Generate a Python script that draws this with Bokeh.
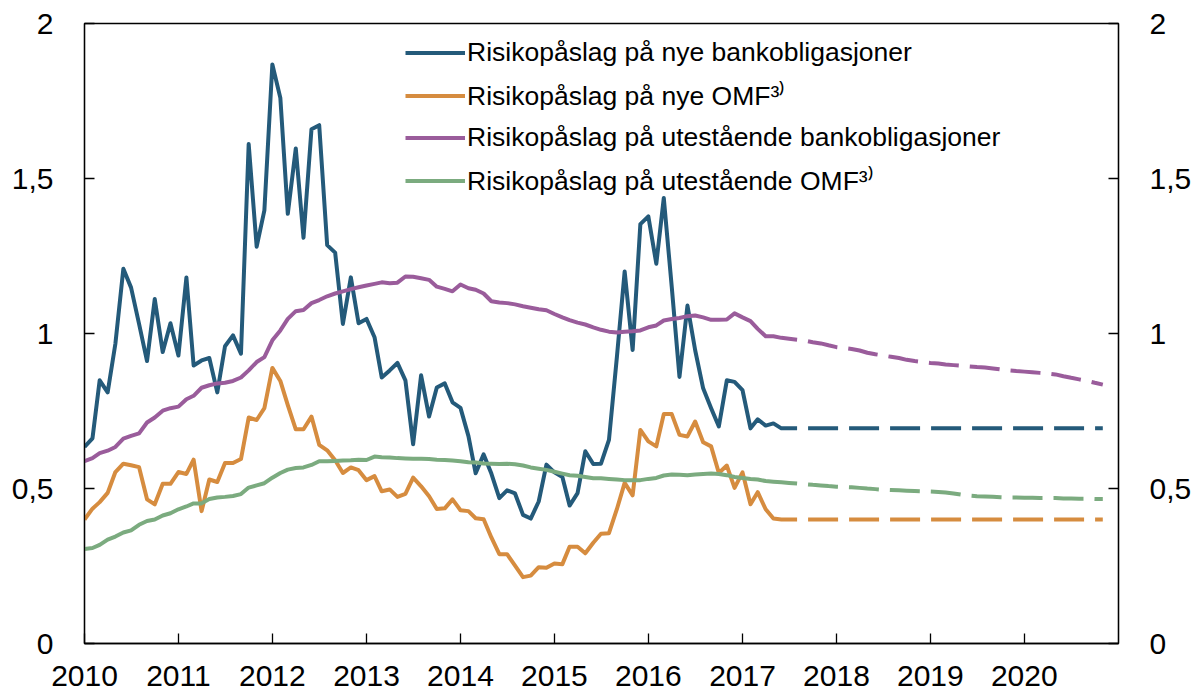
import pandas as pd
from datetime import datetime
from bokeh.plotting import figure
from bokeh.models import (Range1d, LinearAxis, FixedTicker, DatetimeTickFormatter,
                          CustomJSTickFormatter, Legend, LegendItem)
from bokeh.embed import file_html
from bokeh.resources import INLINE

# ---------------- data (monthly, per cent points) ----------------
ACTUAL_START = "2010-01-01"          # actual observations start Jan 2010
FORECAST_START = "2017-08-01"        # dashed projections start Aug 2017
FORECAST_END = "2020-11-01"

labels = [
    "Risikopåslag på nye bankobligasjoner",
    "Risikopåslag på nye OMF³⁾",
    "Risikopåslag på utestående bankobligasjoner",
    "Risikopåslag på utestående OMF³⁾",
]

bank_new = [
    0.634, 0.662, 0.849, 0.810, 0.967, 1.209, 1.148, 1.031, 0.911, 1.111, 0.940, 1.033,
    0.929, 1.181, 0.897, 0.913, 0.921, 0.810, 0.959, 0.994, 0.935, 1.611, 1.280, 1.397,
    1.868, 1.760, 1.386, 1.597, 1.309, 1.659, 1.672, 1.285, 1.261, 1.031, 1.181, 1.033,
    1.047, 0.988, 0.858, 0.881, 0.905, 0.849, 0.643, 0.865, 0.732, 0.826, 0.839, 0.778,
    0.760, 0.669, 0.549, 0.610, 0.548, 0.469, 0.494, 0.484, 0.415, 0.403, 0.458, 0.577,
    0.552, 0.537, 0.445, 0.485, 0.620, 0.579, 0.580, 0.657, 0.926, 1.200, 0.947, 1.353,
    1.378, 1.225, 1.437, 1.150, 0.860, 1.090, 0.946, 0.823, 0.759, 0.700, 0.849, 0.844,
    0.817, 0.694, 0.723, 0.703, 0.710, 0.694, 0.694, 0.694,
]
omf_new = [
    0.400, 0.435, 0.456, 0.486, 0.553, 0.580, 0.575, 0.569, 0.465, 0.449, 0.515, 0.515,
    0.553, 0.547, 0.593, 0.427, 0.529, 0.521, 0.582, 0.582, 0.595, 0.729, 0.721, 0.759,
    0.889, 0.847, 0.769, 0.691, 0.691, 0.732, 0.641, 0.623, 0.591, 0.550, 0.568, 0.559,
    0.527, 0.540, 0.491, 0.497, 0.473, 0.483, 0.535, 0.507, 0.475, 0.434, 0.436, 0.465,
    0.430, 0.427, 0.404, 0.401, 0.342, 0.288, 0.288, 0.251, 0.214, 0.219, 0.246, 0.244,
    0.258, 0.256, 0.312, 0.312, 0.291, 0.325, 0.354, 0.356, 0.434, 0.518, 0.478, 0.689,
    0.652, 0.636, 0.740, 0.740, 0.673, 0.668, 0.716, 0.649, 0.636, 0.550, 0.574, 0.502,
    0.552, 0.449, 0.488, 0.433, 0.403, 0.400, 0.400, 0.400,
]
bank_out = [
    0.588, 0.598, 0.614, 0.622, 0.634, 0.661, 0.670, 0.678, 0.713, 0.729, 0.751, 0.759,
    0.764, 0.788, 0.799, 0.825, 0.833, 0.839, 0.841, 0.847, 0.858, 0.881, 0.908, 0.924,
    0.978, 1.010, 1.047, 1.072, 1.076, 1.098, 1.108, 1.120, 1.129, 1.136, 1.143, 1.149,
    1.155, 1.160, 1.165, 1.162, 1.164, 1.184, 1.183, 1.178, 1.173, 1.151, 1.144, 1.136,
    1.158, 1.146, 1.141, 1.129, 1.104, 1.100, 1.098, 1.094, 1.088, 1.083, 1.078, 1.075,
    1.063, 1.052, 1.043, 1.035, 1.029, 1.020, 1.012, 1.006, 1.003, 1.006, 1.007, 1.010,
    1.020, 1.026, 1.042, 1.047, 1.050, 1.056, 1.058, 1.052, 1.044, 1.044, 1.045, 1.065,
    1.052, 1.040, 1.015, 0.991, 0.991, 0.986, 0.983, 0.980,
]
omf_out = [
    0.305, 0.308, 0.318, 0.335, 0.345, 0.358, 0.365, 0.383, 0.395, 0.400, 0.413, 0.420,
    0.433, 0.442, 0.452, 0.452, 0.466, 0.471, 0.473, 0.476, 0.482, 0.503, 0.510, 0.517,
    0.535, 0.550, 0.561, 0.566, 0.568, 0.576, 0.588, 0.588, 0.589, 0.590, 0.591, 0.593,
    0.592, 0.603, 0.601, 0.600, 0.598, 0.597, 0.596, 0.596, 0.595, 0.593, 0.592, 0.590,
    0.588, 0.585, 0.584, 0.581, 0.580, 0.579, 0.580, 0.578, 0.574, 0.568, 0.564, 0.560,
    0.554, 0.548, 0.543, 0.541, 0.537, 0.533, 0.533, 0.531, 0.529, 0.527, 0.527, 0.527,
    0.531, 0.534, 0.542, 0.545, 0.544, 0.543, 0.545, 0.547, 0.548, 0.547, 0.543, 0.537,
    0.534, 0.531, 0.529, 0.524, 0.522, 0.520, 0.518, 0.516,
]

# projections (dashed)
bank_new_fc = [0.694, 0.694]           # flat: start and end of projection
omf_new_fc = [0.400, 0.400]            # flat: start and end of projection
bank_out_fc = [
    0.980, 0.977, 0.972, 0.968, 0.962, 0.956, 0.953, 0.950, 0.945, 0.938, 0.933, 0.929,
    0.925, 0.921, 0.915, 0.911, 0.908, 0.905, 0.903, 0.900, 0.898, 0.896, 0.894, 0.892,
    0.890, 0.887, 0.884, 0.881, 0.879, 0.877, 0.875, 0.873, 0.871, 0.868, 0.862, 0.857,
    0.852, 0.847, 0.841, 0.835,
]
omf_out_fc = [
    0.516, 0.514, 0.512, 0.510, 0.508, 0.506, 0.505, 0.504, 0.502, 0.500, 0.498, 0.496,
    0.495, 0.494, 0.493, 0.492, 0.491, 0.490, 0.489, 0.487, 0.484, 0.480, 0.477, 0.475,
    0.474, 0.473, 0.472, 0.471, 0.471, 0.470, 0.470, 0.469, 0.469, 0.469, 0.468, 0.468,
    0.467, 0.467, 0.466, 0.466,
]

year_ticks = list(range(2010, 2021))
y_ticks = [0, 0.5, 1, 1.5, 2]

colors = ["#245a7a", "#d68c3f", "#9a5c9b", "#7bab7f"]

# ---------------- figure ----------------
dates = pd.date_range(ACTUAL_START, periods=len(bank_new), freq="MS")
fc_dates = pd.date_range(FORECAST_START, periods=len(bank_out_fc), freq="MS")
fc_flat_dates = pd.to_datetime([FORECAST_START, FORECAST_END])

p = figure(width=1197, height=699, x_axis_type="datetime",
           x_range=Range1d(datetime(2010, 1, 1), datetime(2021, 1, 1)),
           y_range=Range1d(0, 2),
           output_backend="svg", toolbar_location=None,
           min_border_left=84, min_border_right=79, min_border_top=23, min_border_bottom=56)
p.xgrid.visible = False
p.ygrid.visible = False
p.outline_line_color = "black"
p.outline_line_width = 1.3
p.background_fill_color = "white"
p.border_fill_color = "white"

LW = 4
actual = [bank_new, omf_new, bank_out, omf_out]
fcs = [(fc_flat_dates, bank_new_fc), (fc_flat_dates, omf_new_fc),
       (fc_dates, bank_out_fc), (fc_dates, omf_out_fc)]
renderers = []
for vals, (fx, fy), c in zip(actual, fcs, colors):
    r = p.line(dates, vals, line_color=c, line_width=LW, line_join="round")
    renderers.append(r)
    p.line(fx, fy, line_color=c, line_width=LW, line_dash="30 11", line_dash_offset=30)

# axes
tick_font = "Liberation Sans"
def style_axis(ax, standoff):
    ax.axis_line_color = "black"
    ax.axis_line_width = 1.3
    ax.major_tick_line_color = "black"
    ax.major_tick_line_width = 1.3
    ax.major_tick_in = 10
    ax.major_tick_out = 0
    ax.minor_tick_line_color = None
    ax.major_label_text_font = tick_font
    ax.major_label_text_font_size = "30px"
    ax.major_label_text_color = "black"
    ax.major_label_standoff = standoff

xa = p.xaxis[0]
xa.ticker = FixedTicker(ticks=[pd.Timestamp(f"{y}-01-01").timestamp() * 1000 for y in year_ticks])
xa.formatter = DatetimeTickFormatter(years="%Y", months="%Y", days="%Y", hours="%Y",
                                     minutes="%Y", seconds="%Y", milliseconds="%Y")
style_axis(xa, 22)

comma = CustomJSTickFormatter(code="return tick.toString().replace('.', ',');")
ya = p.yaxis[0]
ya.ticker = FixedTicker(ticks=y_ticks)
ya.formatter = comma
style_axis(ya, 31)

ra = LinearAxis(ticker=FixedTicker(ticks=y_ticks), formatter=comma)
style_axis(ra, 31)
p.add_layout(ra, "right")

legend = Legend(items=[LegendItem(label=l, renderers=[r]) for l, r in zip(labels, renderers)],
                location=(321, 445))
legend.label_text_font = tick_font
legend.label_text_font_size = "26.5px"
legend.label_text_color = "black"
legend.glyph_width = 60
legend.glyph_height = 29
legend.label_standoff = 2
legend.spacing = 9
legend.padding = 0
legend.margin = 0
legend.border_line_color = None
legend.background_fill_alpha = 0
p.add_layout(legend)

open("out.html", "w").write(file_html(p, INLINE))
